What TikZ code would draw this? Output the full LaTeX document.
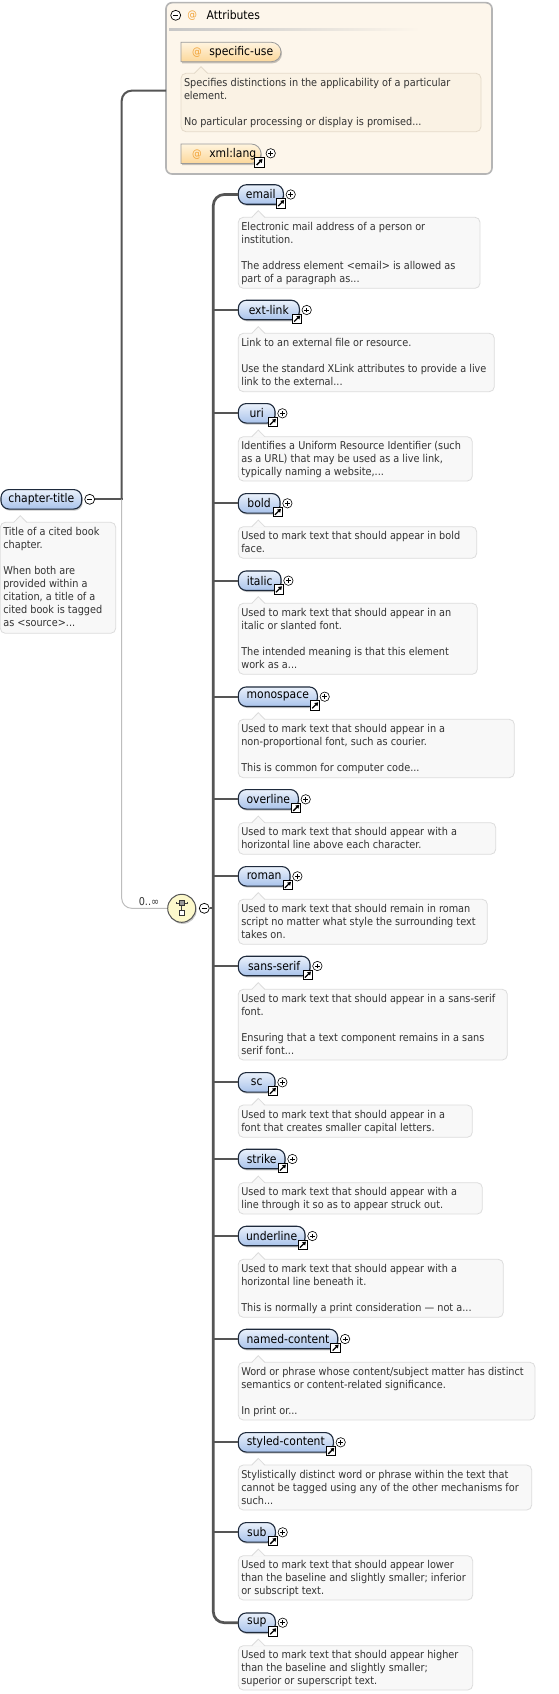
\documentclass[tikz,border=0pt]{standalone}
\usepackage{fontspec}
\newfontfamily\dvc{DejaVu Sans Condensed}
\usetikzlibrary{shapes.misc,shadows,arrows.meta}
\definecolor{elemtop}{HTML}{EAF1FB}
\definecolor{elembot}{HTML}{A9C3EB}
\definecolor{elemline}{HTML}{1E2A3C}
\definecolor{atttop}{HTML}{FFF4DE}
\definecolor{attbot}{HTML}{FCD79A}
\definecolor{attline}{HTML}{9A9A9A}
\definecolor{atorange}{HTML}{F2A43A}
\definecolor{panelfill}{HTML}{FDF6EB}
\definecolor{panelline}{HTML}{B5B5B5}
\definecolor{dfill}{HTML}{F8F8F8}
\definecolor{dline}{HTML}{DCDCDC}
\definecolor{afill}{HTML}{FAF2E4}
\definecolor{aline}{HTML}{E4DACA}
\definecolor{txt}{HTML}{333333}
\definecolor{conncol}{HTML}{555555}
\definecolor{lightcol}{HTML}{BDBDBD}
\definecolor{compfill}{HTML}{FCF8CB}
\newcommand\descfont{\dvc\fontsize{10.8pt}{13pt}\selectfont}
\newcommand\lblfont{\dvc\fontsize{12pt}{14pt}\selectfont}
\tikzset{
  shad/.style={drop shadow={shadow xshift=1pt,shadow yshift=-1.6pt,opacity=0.22,fill=black}},
  elem/.style={rectangle, rounded corners=8pt, draw=elemline, line width=1.1pt,
    top color=elemtop, bottom color=elembot, minimum height=19.5pt,
    inner xsep=0pt, inner ysep=0pt, outer sep=0pt, anchor=west,
    font=\lblfont, text=black, shad},
  attnode/.style={rounded rectangle, rounded rectangle left arc=none,
    draw=attline, line width=0.8pt, top color=atttop, bottom color=attbot,
    minimum height=19.4pt, inner xsep=0pt, inner ysep=0pt, outer sep=0pt,
    anchor=west, font=\lblfont, text=black, shad},
  descbox/.style={rectangle, rounded corners=5pt, line width=0.8pt,
    anchor=north west, inner sep=0pt, outer sep=0pt},
  desctext/.style={anchor=north west, inner sep=0pt, align=left,
    font=\descfont, text=txt},
  linkic/.style={draw=black, line width=0.8pt, fill=white, minimum size=9.5pt,
    inner sep=0pt,
    path picture={\draw[line width=1.3pt,-{Triangle[length=3.4pt,width=4.2pt]}]
      ([shift={(2pt,2pt)}]path picture bounding box.south west) --
      ([shift={(-1.5pt,-1.5pt)}]path picture bounding box.north east);}},
  plusc/.style={circle, draw=black, line width=0.6pt, fill=white,
    minimum size=9.4pt, inner sep=0pt,
    path picture={\draw[line width=0.6pt]
      ([xshift=-2.4pt]path picture bounding box.center) --
      ([xshift=2.4pt]path picture bounding box.center)
      ([yshift=-2.4pt]path picture bounding box.center) --
      ([yshift=2.4pt]path picture bounding box.center);}},
  minusc/.style={circle, draw=black, line width=0.7pt, fill=white,
    minimum size=10pt, inner sep=0pt,
    path picture={\draw[line width=0.7pt]
      ([xshift=-2.6pt]path picture bounding box.center) --
      ([xshift=2.6pt]path picture bounding box.center);}},
  conn/.style={draw=conncol, line width=2pt},
  spine/.style={draw=conncol, line width=2.7pt},
  light/.style={draw=lightcol, line width=1pt},
  plaintext/.style={inner sep=0pt, outer sep=0pt},
}
% #1 colour prefix, #2 name, #3 left, #4 top, #5 right, #6 bottom, #7 text
\newcommand\descb[7][d]{%
  \node[descbox, fill=#1fill, draw=#1line, minimum width={#5pt-#3pt},
    minimum height={#6pt-#4pt}] (#2) at (#3,#4) {};
  \fill[#1fill] ([xshift=13.5pt,yshift=-0.8pt]#2.north west) --
    ([xshift=20pt,yshift=6.6pt]#2.north west) --
    ([xshift=26.5pt,yshift=-0.8pt]#2.north west) -- cycle;
  \draw[#1line, line width=0.8pt] ([xshift=13.5pt]#2.north west) --
    ([xshift=20pt,yshift=6.6pt]#2.north west) --
    ([xshift=26.5pt]#2.north west);
  \node[desctext] (#2t) at ([xshift=2.8pt,yshift=-4.6pt]#2.north west) {#7};
}
% #1 name, #2 label, #3 y, #4 right edge
\newcommand\elem[4]{%
  \node[elem, minimum width={#4pt-238.3pt}] (#1) at (238.3,#3) {#2};
  \node[linkic] (#1l) at ({#4-2.3},{#3+8.8}) {};
  \node[plusc] (#1p) at ({#4+7.4},{#3}) {};
}
\begin{document}
\begin{tikzpicture}[x=1pt,y=-1pt]
\useasboundingbox (0,0) rectangle (559,1694);
\fill[white] (0,0) rectangle (559,1694);

% ---------- Attributes panel ----------
\node[rectangle, rounded corners=6pt, draw=panelline, line width=1.6pt,
  fill=panelfill, anchor=north west, inner sep=0pt, outer sep=0pt,
  minimum width=326pt, minimum height=171.3pt] (attr) at (166,2.7) {};
\node[minusc] (attrm) at (175.7,15.3) {};
\node[plaintext, font=\descfont, text=atorange] (attrat) at (192.3,15.3) {@};
\node[plaintext, font=\lblfont, anchor=west] (attrlbl) at (206.7,15.3) {Attributes};
\shade[left color=black!22, right color=panelfill] (169,28.6) rectangle (420,30.2);

\node[attnode, minimum width=100pt] (su) at (181,52)
  {\makebox[90pt][l]{\hspace{7pt}{\descfont\color{atorange}@}\hspace{7.6pt}specific-use}};
\descb[a]{sud}{181}{73.3}{481}{131.7}{Specifies distinctions in the applicability of a particular\\element.\\[13pt]No particular processing or display is promised...}
\node[attnode, minimum width=80pt] (xl) at (181,153.7)
  {\makebox[70pt][l]{\hspace{7pt}{\descfont\color{atorange}@}\hspace{7.6pt}xml:lang}};
\node[linkic] (xll) at (259.3,162.3) {};
\node[plusc] (xlp) at (270.7,153.3) {};

% ---------- chapter-title ----------
\node[elem, minimum width=80.7pt] (ct) at (1,499.3) {chapter-title};
\node[minusc] (ctm) at (89.7,499.3) {};
\descb{ctd}{0.3}{522.3}{115.7}{633.3}{Title of a cited book\\chapter.\\[13pt]When both are\\provided within a\\citation, a title of a\\cited book is tagged\\as <source>...}
\coordinate (jn) at (121.7,499.3);
\draw[conn, rounded corners=10pt] (jn) |- ([yshift=-2.3pt]attr.west);
\draw[conn] (ctm.east) -- ([xshift=1pt]jn);

% ---------- compositor ----------
\node[circle, draw=conncol, line width=1pt, fill=compfill, minimum size=28pt,
  inner sep=0pt, shad] (comp) at (181.7,908.3) {};
\draw[light, rounded corners=10pt] (jn) |- (comp.west);
\node[plaintext, font=\descfont, text=txt] (occ) at (149,901.2) {0..∞};
\draw[line width=0.8pt, black!75] ([xshift=-5.7pt,yshift=5.3pt]comp.center) -- ([xshift=5.7pt,yshift=5.3pt]comp.center);
\draw[line width=0.8pt, black!75] ([xshift=-5.7pt,yshift=6.5pt]comp.center) -- ([xshift=-5.7pt,yshift=4.1pt]comp.center)
  ([xshift=5.7pt,yshift=6.5pt]comp.center) -- ([xshift=5.7pt,yshift=4.1pt]comp.center);
\draw[line width=0.8pt, black!75] ([yshift=2.5pt]comp.center) -- ([yshift=-2pt]comp.center);
\node[draw=black!80, line width=0.6pt, fill=black!40, minimum size=5.5pt, inner sep=0pt] (compsq1) at ([yshift=5.3pt]comp.center) {};
\node[draw=black!80, line width=0.6pt, fill=white, minimum size=5.5pt, inner sep=0pt] (compsq2) at ([yshift=-4.7pt]comp.center) {};
\node[minusc] (compm) at (204.3,908.3) {};
\coordinate (spine) at (213.3,908.3);
\draw[conn] (compm.east) -- (spine);

% ---------- children ----------
\elem{email}{email}{194.5}{283.3}
\elem{extlink}{ext-link}{310}{299.3}
\elem{uri}{uri}{413.3}{275}
\elem{bold}{bold}{503.3}{280}
\elem{italic}{italic}{580.7}{281}
\elem{monospace}{monospace}{696.7}{317.3}
\elem{overline}{overline}{799.3}{298.3}
\elem{roman}{roman}{876.3}{290}
\elem{sansserif}{sans-serif}{966}{310}
\elem{sc}{sc}{1082.3}{275}
\elem{strike}{strike}{1159}{285}
\elem{underline}{underline}{1236}{305}
\elem{namedcontent}{named-content}{1339}{337.7}
\elem{styledcontent}{styled-content}{1442.3}{333.3}
\elem{sub}{sub}{1532.3}{275.3}
\elem{sup}{sup}{1622.7}{275.3}

\draw[spine, rounded corners=11pt] (email.west) -| (spine) |- (sup.west);
\foreach \n in {extlink,uri,bold,italic,monospace,overline,roman,sansserif,sc,strike,underline,namedcontent,styledcontent,sub}
  \draw[conn] (spine |- \n.west) -- (\n.west);

\descb{emaild}{238.3}{217.3}{480}{288.3}{Electronic mail address of a person or\\institution.\\[13pt]The address element <email> is allowed as\\part of a paragraph as...}
\descb{extlinkd}{238.3}{333.3}{494.3}{391.7}{Link to an external file or resource.\\[13pt]Use the standard XLink attributes to provide a live\\link to the external...}
\descb{urid}{238.3}{436.7}{472.3}{481}{Identifies a Uniform Resource Identifier (such\\as a URL) that may be used as a live link,\\typically naming a website,...}
\descb{boldd}{238.3}{526.7}{476.7}{558.3}{Used to mark text that should appear in bold\\face.}
\descb{italicd}{238.3}{603.3}{477.3}{674.3}{Used to mark text that should appear in an\\italic or slanted font.\\[13pt]The intended meaning is that this element\\work as a...}
\descb{monospaced}{238.3}{719.3}{514.3}{777.7}{Used to mark text that should appear in a\\non-proportional font, such as courier.\\[13pt]This is common for computer code...}
\descb{overlined}{238.3}{822.7}{495.7}{854.3}{Used to mark text that should appear with a\\horizontal line above each character.}
\descb{romand}{238.3}{899.3}{487.3}{944.3}{Used to mark text that should remain in roman\\script no matter what style the surrounding text\\takes on.}
\descb{sansserifd}{238.3}{989.3}{507.3}{1060}{Used to mark text that should appear in a sans-serif\\font.\\[13pt]Ensuring that a text component remains in a sans\\serif font...}
\descb{scd}{238.3}{1105}{472.3}{1137.3}{Used to mark text that should appear in a\\font that creates smaller capital letters.}
\descb{striked}{238.3}{1182.7}{482.3}{1214}{Used to mark text that should appear with a\\line through it so as to appear struck out.}
\descb{underlined}{238.3}{1259.3}{503.3}{1317.3}{Used to mark text that should appear with a\\horizontal line beneath it.\\[13pt]This is normally a print consideration — not a...}
\descb{namedcontentd}{238.3}{1362.3}{535}{1420}{Word or phrase whose content/subject matter has distinct\\semantics or content-related significance.\\[13pt]In print or...}
\descb{styledcontentd}{238.3}{1465}{531.7}{1510}{Stylistically distinct word or phrase within the text that\\cannot be tagged using any of the other mechanisms for\\such...}
\descb{subd}{238.3}{1555.7}{472.7}{1600}{Used to mark text that should appear lower\\than the baseline and slightly smaller; inferior\\or subscript text.}
\descb{supd}{238.3}{1645.7}{472.7}{1690}{Used to mark text that should appear higher\\than the baseline and slightly smaller;\\superior or superscript text.}
\end{tikzpicture}
\end{document}
